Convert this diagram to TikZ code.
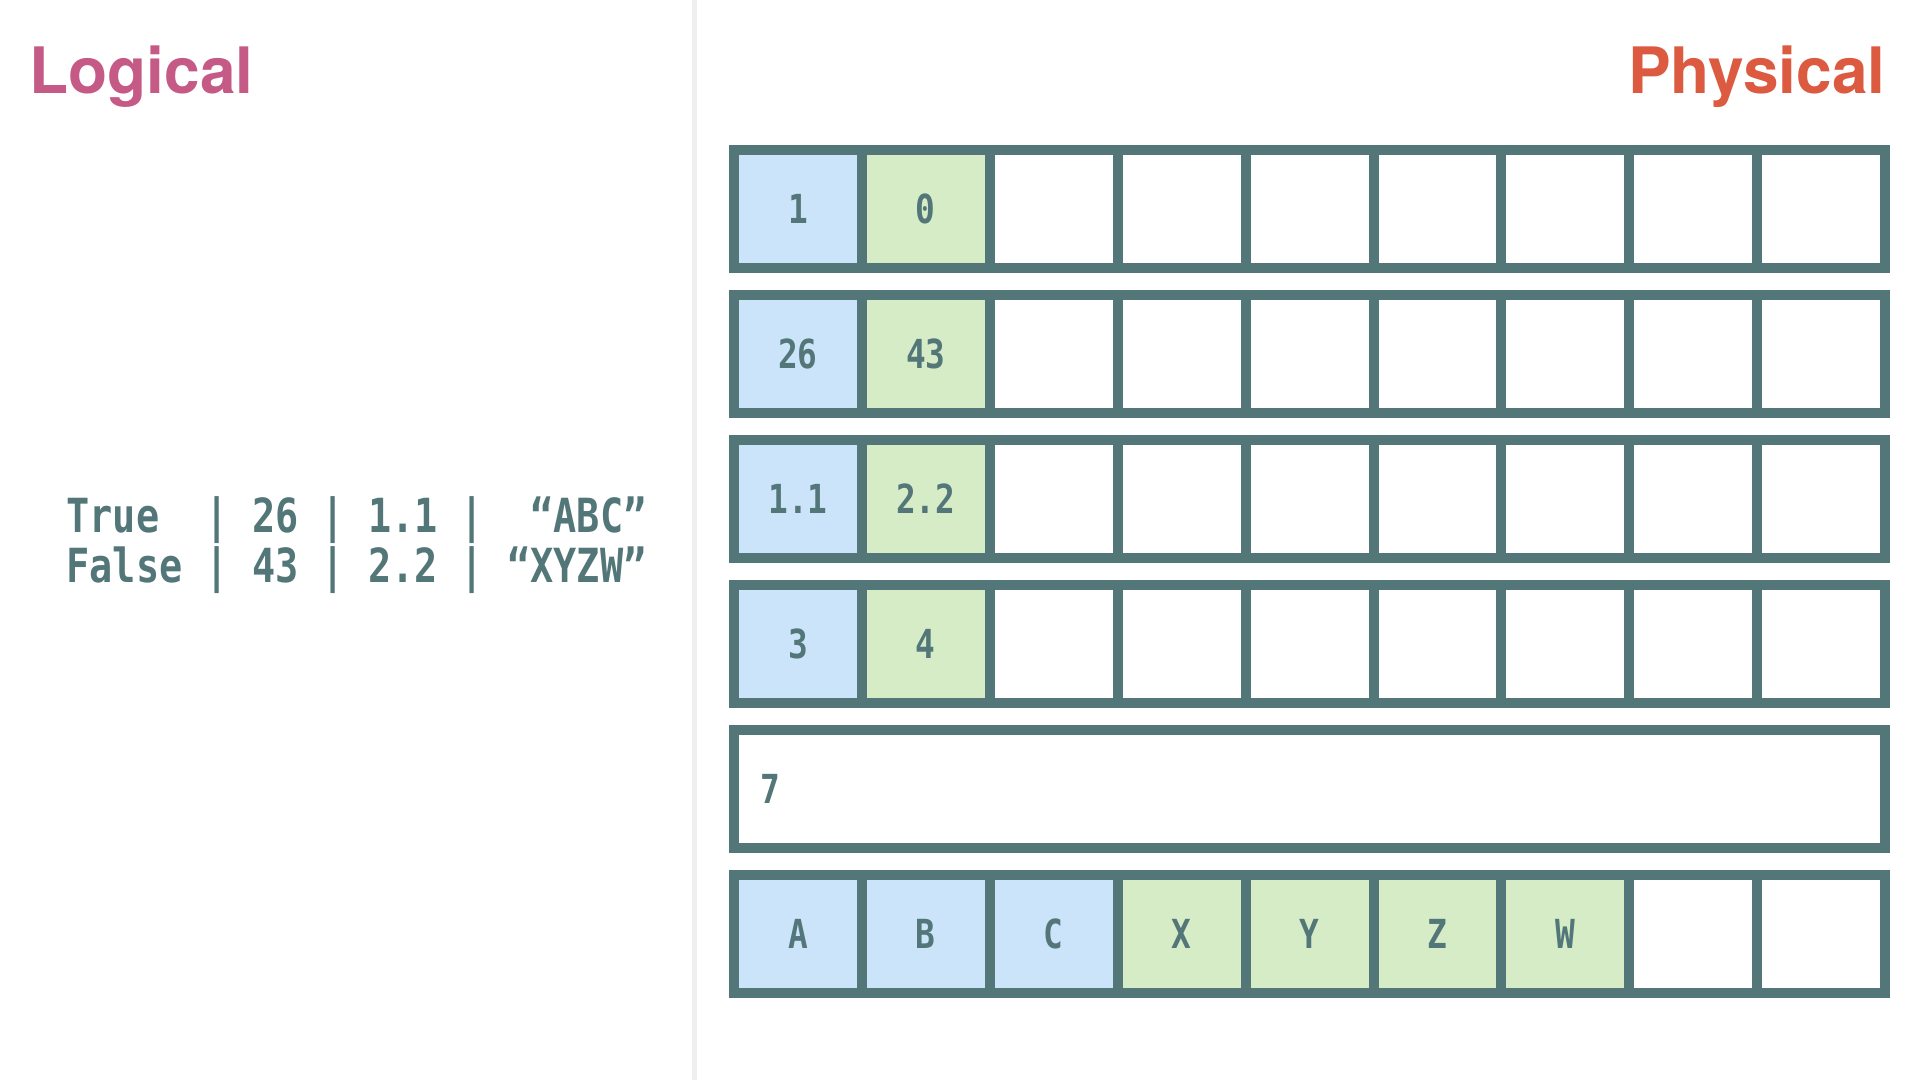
\documentclass[tikz,border=0pt]{standalone}
\usepackage{fontspec}
\setmainfont{TeX Gyre Heros}
\newfontfamily\codefont[FakeStretch=0.82]{DejaVu Sans Mono}
\definecolor{framecol}{HTML}{537679}
\definecolor{bluefill}{HTML}{CBE4FA}
\definecolor{greenfill}{HTML}{D6ECC6}
\definecolor{logicalcol}{HTML}{C45A85}
\definecolor{physicalcol}{HTML}{DC5A40}
\definecolor{dividercol}{HTML}{EFEFEF}
\begin{document}
\begin{tikzpicture}
            [x = 0.5pt, y = -0.5pt,
             title/.style = {font = \bfseries\fontsize{32}{32}\selectfont, inner sep = 0pt},
             cell/.style = {draw = framecol, line width = 5pt, minimum width = 63.95pt, minimum height = 59pt,
                            inner sep = 0pt, text = framecol, font = \codefont\bfseries\fontsize{20}{20}\selectfont},
             bluecell/.style = {cell, fill = bluefill},
             greencell/.style = {cell, fill = greenfill},
             code/.style = {text = framecol, font = \codefont\bfseries\fontsize{23.5}{25}\selectfont,
                            inner sep = 0pt, align = left}]
            \useasboundingbox (0,0) rectangle (1920,1080);
            \fill[dividercol] (692,0) rectangle (697,1080);
            \node[title, text = logicalcol, anchor = base west] (logical) at (29,94) {Logical};
            \node[title, text = physicalcol, anchor = base east] (physical) at (1886,94) {Physical};
            \node[code, anchor = west] (table) at (66,545)
                {True~~| 26 | 1.1 |~~“ABC”\\False | 43 | 2.2 | “XYZW”};
            % fixed width columns
            \foreach \r/\a/\b in {0/1/0, 1/26/43, 2/1.1/2.2, 3/3/4} {
                \node[bluecell] (c-\r-0) at (797.95,{209+145*\r}) {\a};
                \node[greencell] (c-\r-1) at (925.85,{209+145*\r}) {\b};
                \foreach \j in {2,...,8}
                    \node[cell] (c-\r-\j) at ({797.95+127.9*\j},{209+145*\r}) {};
            }
            % validity row
            \node[cell, minimum width = 575.5pt] (wide) at (1309.5,789) {};
            \node[cell, draw = none, minimum width = 0pt, anchor = west] (seven) at (755,789) {7};
            % string data
            \foreach \l [count = \j from 0] in {A,B,C}
                \node[bluecell] (c-5-\j) at ({797.95+127.9*\j},934) {\l};
            \foreach \l [count = \j from 3] in {X,Y,Z,W}
                \node[greencell] (c-5-\j) at ({797.95+127.9*\j},934) {\l};
            \node[cell] (c-5-7) at (1693.25,934) {};
            \node[cell] (c-5-8) at (1821.15,934) {};
        \end{tikzpicture}
\end{document}
